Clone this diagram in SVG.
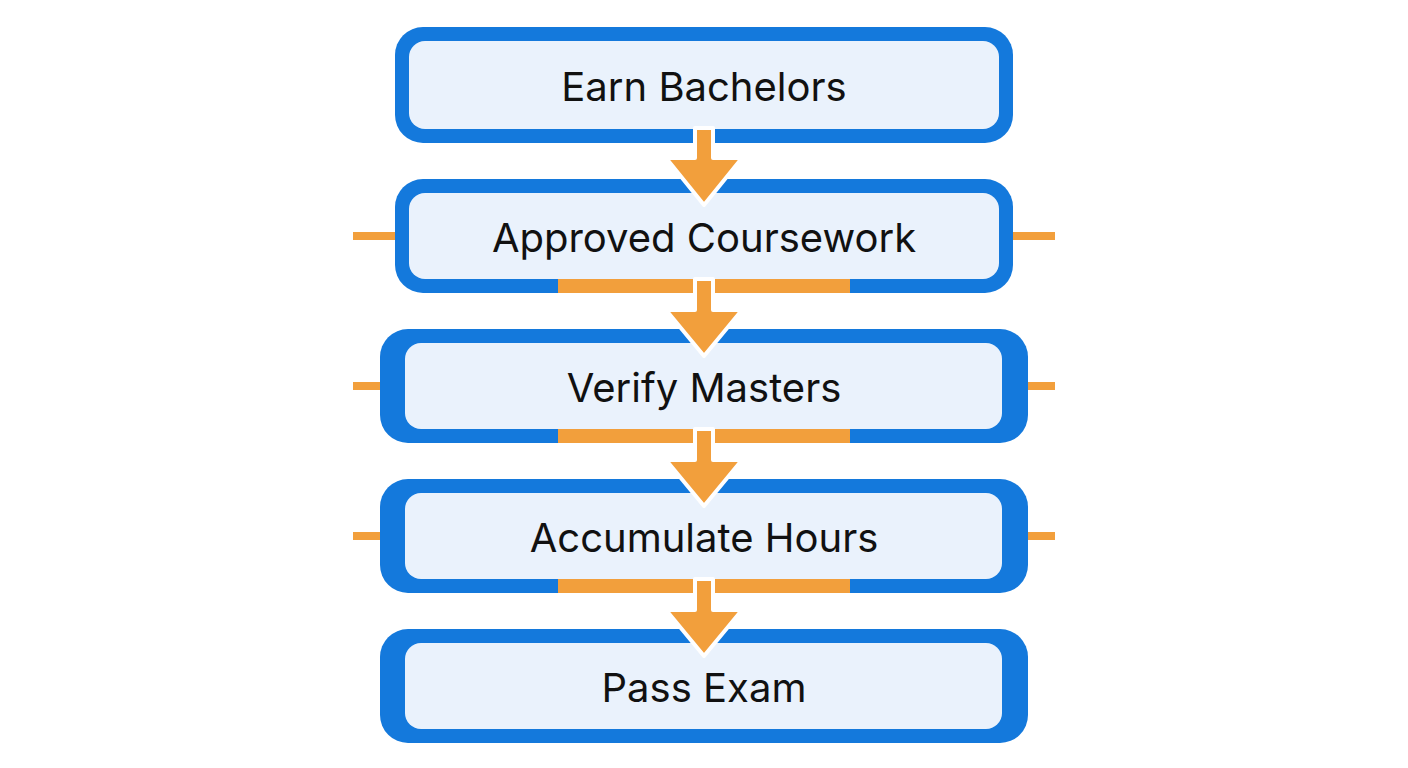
<svg xmlns="http://www.w3.org/2000/svg" width="1408" height="768" viewBox="0 0 1408 768">
<style>
.box{fill:#1479dc}
.in{fill:#eaf2fc}
.t{font-family:Inter,"Liberation Sans",sans-serif;font-size:40px;fill:#111;text-anchor:middle}
.or{fill:#f29f3c}
.stub{stroke:#f29f3c;stroke-width:8}
.arr{fill:#f29f3c;stroke:#fff;stroke-width:4;stroke-linejoin:round}
</style>
<rect width="1408" height="768" fill="#fff"/>
<g id="connectors">
<line class="stub" x1="353" y1="236" x2="396" y2="236"/><line class="stub" x1="1012" y1="236" x2="1055" y2="236"/>
<line class="stub" x1="353" y1="386" x2="381" y2="386"/><line class="stub" x1="1027" y1="386" x2="1055" y2="386"/>
<line class="stub" x1="353" y1="536" x2="381" y2="536"/><line class="stub" x1="1027" y1="536" x2="1055" y2="536"/>
</g>
<g id="n1"><rect class="box" x="395" y="27" width="618" height="116" rx="28"/><rect class="in" x="409" y="41" width="590" height="88" rx="16"/><text class="t" x="704" y="101">Earn Bachelors</text></g>
<g id="n2"><rect class="box" x="395" y="179" width="618" height="114" rx="28"/><rect class="or" x="558" y="278" width="292" height="15"/><rect class="in" x="409" y="193" width="590" height="86" rx="16"/><text class="t" x="704" y="252">Approved Coursework</text></g>
<g id="n3"><rect class="box" x="380" y="329" width="648" height="114" rx="28"/><rect class="or" x="558" y="428" width="292" height="15"/><rect class="in" x="405" y="343" width="597" height="86" rx="16"/><text class="t" x="704" y="402">Verify Masters</text></g>
<g id="n4"><rect class="box" x="380" y="479" width="648" height="114" rx="28"/><rect class="or" x="558" y="578" width="292" height="15"/><rect class="in" x="405" y="493" width="597" height="86" rx="16"/><text class="t" x="704" y="552">Accumulate Hours</text></g>
<g id="n5"><rect class="box" x="380" y="629" width="648" height="114" rx="28"/><rect class="in" x="405" y="643" width="597" height="86" rx="16"/><text class="t" x="704" y="702">Pass Exam</text></g>
<g id="arrows">
<path class="arr" d="M695 128 H713 V158 H742 L704 205 L666 158 H695 Z"/>
<path class="arr" d="M695 279 H713 V310 H742 L704 356 L666 310 H695 Z"/>
<path class="arr" d="M695 429 H713 V460 H742 L704 506 L666 460 H695 Z"/>
<path class="arr" d="M695 579 H713 V610 H742 L704 656 L666 610 H695 Z"/>
</g>
</svg>
